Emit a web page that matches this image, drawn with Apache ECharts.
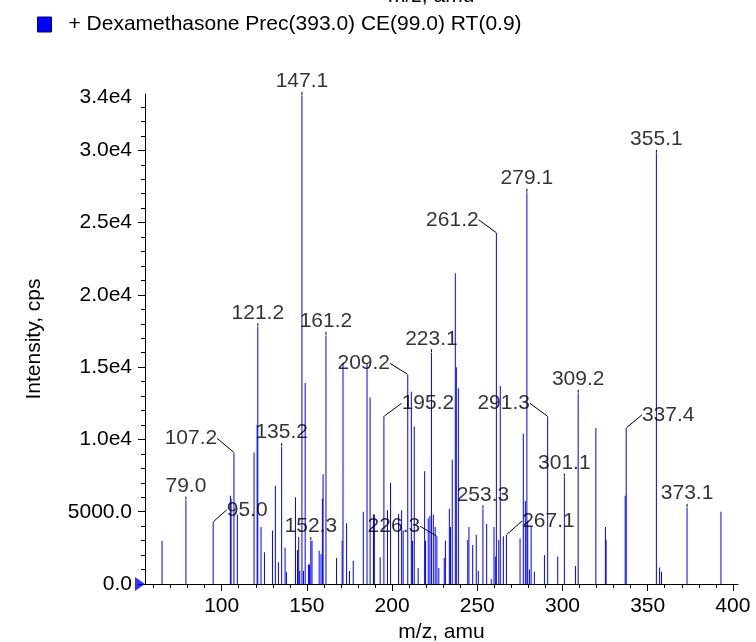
<!DOCTYPE html>
<html>
<head>
<meta charset="utf-8">
<script src="https://cdn.jsdelivr.net/npm/echarts@6/dist/echarts.min.js"></script>
<style>
  html, body { margin: 0; padding: 0; background: #fff; }
  #chart { width: 756px; height: 642px; }
</style>
</head>
<body>
<div id="chart"></div>
<script>
// peaks (m/z, cps)
const mz = [65.0, 79.0, 95.0, 105.1, 105.5, 107.2, 109.2, 119.0, 120.8, 121.2, 123.1, 125.1, 129.8, 131.5, 133.3, 135.2, 137.2, 138.0,
  143.3, 144.5, 145.2, 145.8, 147.1, 148.0, 149.0, 150.9, 151.5, 152.3, 153.0, 157.2, 158.3, 159.1, 159.5, 161.2, 167.4, 170.7,
  171.2, 173.3, 175.0, 177.2, 183.1, 185.3, 187.1, 189.1, 189.6, 193.0, 195.2, 197.3, 199.1, 203.8, 205.6, 206.5, 209.2, 211.3,
  212.0, 213.0, 215.3, 219.1, 219.6, 221.2, 222.2, 223.1, 224.2, 225.3, 226.3, 227.4, 230.6, 231.3, 233.6, 234.3, 235.3, 237.1,
  237.7, 238.9, 244.4, 245.1, 247.3, 249.4, 250.6, 253.3, 255.5, 258.2, 259.8, 260.6, 261.2, 262.6, 263.5, 265.3, 267.1, 275.1,
  277.0, 278.2, 279.1, 279.6, 280.6, 281.6, 283.5, 289.4, 291.3, 297.2, 301.1, 307.6, 309.2, 319.6, 325.2, 325.6, 336.8, 337.4,
  355.1, 357.0, 358.1, 373.1, 393.0]
const intensity = [3000, 5800, 4300, 6100, 5900, 9100, 4800, 9100, 11000, 17800, 3950, 2200, 3700, 6800, 1500, 9500, 2500, 850,
  6000, 2350, 3250, 900, 33800, 900, 13900, 1350, 1350, 3000, 3000, 2300, 2050, 5900, 7600, 17200, 1800, 3000,
  15300, 4200, 900, 1600, 5000, 15200, 12900, 4800, 4800, 1850, 11600, 5100, 7000, 4850, 5100, 3700, 14500, 13300,
  3000, 10900, 1100, 7800, 3000, 4550, 4700, 16000, 4800, 3950, 3300, 1100, 1800, 3000, 5200, 3950, 8600, 21500,
  15000, 13550, 3050, 3950, 2700, 3400, 900, 5200, 4150, 350, 3950, 1900, 24300, 3050, 13700, 3300, 3400, 3150,
  10400, 5750, 27100, 4300, 1000, 3950, 850, 2000, 11600, 1900, 7400, 1250, 13200, 10800, 3950, 3050, 6100, 10800,
  29800, 1150, 850, 5300, 5000]

// peaks carrying a text label
const labelledMz = [79.0, 95.0, 107.2, 121.2, 135.2, 147.1, 152.3, 161.2, 195.2, 209.2, 223.1, 226.3, 253.3, 261.2, 267.1,
  279.1, 291.3, 301.1, 309.2, 337.4, 355.1, 373.1]

const xMajorTicks = [100, 150, 200, 250, 300, 350, 400]
const xMinorTicks = [60, 70, 80, 90, 100, 110, 120, 130, 140, 150, 160, 170, 180, 190, 200, 210, 220, 230, 240, 250, 260, 270,
  280, 290, 300, 310, 320, 330, 340, 350, 360, 370, 380, 390, 400]
const yMajorTicks = [0, 5000, 10000, 15000, 20000, 25000, 30000]
const yLabelTicks = [0, 5000, 10000, 15000, 20000, 25000, 30000, 33900]
const yMinorTicks = [1000, 2000, 3000, 4000, 6000, 7000, 8000, 9000, 11000, 12000, 13000, 14000, 16000, 17000, 18000, 19000,
  21000, 22000, 23000, 24000, 26000, 27000, 28000, 29000, 31000, 32000, 33000]

const xMin = 55
const xMax = 403
const yMax = 33900

const seriesName = '+ Dexamethasone Prec(393.0) CE(99.0) RT(0.9)'
const font = "'Liberation Sans', Arial, Helvetica, sans-serif"

// labels moved aside with a leader line, [dx, dy] in px
const labelShift = {
  '95.0': [34, 2],
  '107.2': [-43, 0],
  '195.2': [44, 1],
  '209.2': [-44, 3],
  '226.3': [-43, 4],
  '261.2': [-44, 1],
  '267.1': [42, 0],
  '291.3': [-44, 1],
  '337.4': [42, 1]
}

const peaks = mz.map((m, i) => [m, intensity[i]])
const labelPoints = labelledMz.map(m => [m, intensity[mz.indexOf(m)]])

function yFormat (v) {
  if (v === 0) return '0.0'
  if (v < 10000) return v.toFixed(1)
  if (v === yMax) return '{top|' + (v / 10000).toFixed(1) + 'e4}'
  return (v / 10000).toFixed(1) + 'e4'
}

const chart = echarts.init(document.getElementById('chart'), null, { renderer: 'canvas' })

const option = {
  animation: false,
  textStyle: { fontFamily: font },
  color: ['#0000ff'],
  legend: {
    data: [{ name: seriesName, icon: 'rect', itemStyle: { color: '#0000ff', borderColor: '#000066', borderWidth: 1 } }],
    left: 32,
    top: 9,
    itemWidth: 14,
    itemHeight: 15,
    selectedMode: false,
    textStyle: { fontFamily: font, fontSize: 21, color: '#000', padding: [0, 0, 0, 12] }
  },
  grid: { left: 145, right: 18, top: 94, bottom: 58, outerBoundsMode: 'none', containLabel: false },
  xAxis: [
    {
      type: 'value',
      min: xMin,
      max: xMax,
      name: 'm/z, amu',
      nameLocation: 'middle',
      nameGap: 37,
      nameTextStyle: { fontFamily: font, fontSize: 21, color: '#000' },
      axisLine: { show: true, lineStyle: { color: '#000', width: 1 } },
      axisTick: { show: true, customValues: xMajorTicks, length: 7, lineStyle: { color: '#000' } },
      axisLabel: { customValues: xMajorTicks, margin: 12, fontFamily: font, fontSize: 21, color: '#000' },
      splitLine: { show: false }
    },
    {
      type: 'value',
      min: xMin,
      max: xMax,
      position: 'bottom',
      axisLine: { show: false },
      axisTick: { show: true, customValues: xMinorTicks, length: 4, lineStyle: { color: '#000' } },
      axisLabel: { show: false },
      splitLine: { show: false }
    }
  ],
  yAxis: [
    {
      type: 'value',
      min: 0,
      max: yMax,
      name: 'Intensity, cps',
      nameLocation: 'middle',
      nameGap: 100,
      nameTextStyle: { fontFamily: font, fontSize: 21, color: '#000' },
      axisLine: { show: true, lineStyle: { color: '#000', width: 1 } },
      axisTick: { show: true, customValues: yMajorTicks, length: 7, lineStyle: { color: '#000' } },
      axisLabel: {
        customValues: yLabelTicks,
        margin: 13,
        fontFamily: font,
        fontSize: 21,
        color: '#000',
        formatter: yFormat,
        rich: { top: { fontFamily: font, fontSize: 21, color: '#000', padding: [6, 0, 0, 0] } }
      },
      splitLine: { show: false }
    },
    {
      type: 'value',
      min: 0,
      max: yMax,
      position: 'left',
      axisLine: { show: false },
      axisTick: { show: true, customValues: yMinorTicks, length: 4, lineStyle: { color: '#000' } },
      axisLabel: { show: false },
      splitLine: { show: false }
    }
  ],
  graphic: [
    {
      // title repeated above, cut by the top edge
      type: 'text',
      left: 388,
      top: -14,
      style: { text: 'm/z, amu', font: '21px ' + font, fill: '#000' }
    }
  ],
  series: [
    {
      name: seriesName,
      type: 'bar',
      barWidth: 1,
      itemStyle: { color: '#0000ff' },
      data: peaks,
      silent: true
    },
    {
      name: 'labels',
      type: 'scatter',
      symbolSize: 1,
      itemStyle: { color: 'rgba(0,0,0,0)' },
      data: labelPoints,
      silent: true,
      z: 5,
      label: {
        show: true,
        position: 'top',
        distance: 3,
        fontFamily: font,
        fontSize: 21,
        color: '#000',
        formatter: p => p.value[0].toFixed(1)
      },
      labelLine: { show: true, lineStyle: { color: '#000', width: 1 } },
      labelLayout: function (params) {
        const s = labelShift[labelledMz[params.dataIndex].toFixed(1)]
        return s ? { dx: s[0], dy: s[1] } : {}
      }
    },
    {
      name: 'zero',
      type: 'scatter',
      data: [[xMin, 0]],
      symbol: 'triangle',
      symbolSize: [14, 10],
      symbolRotate: -90,
      symbolOffset: [-5, 0],
      itemStyle: { color: '#0000ff' },
      clip: false,
      silent: true,
      z: 6
    }
  ]
}

chart.setOption(option)
</script>
</body>
</html>
